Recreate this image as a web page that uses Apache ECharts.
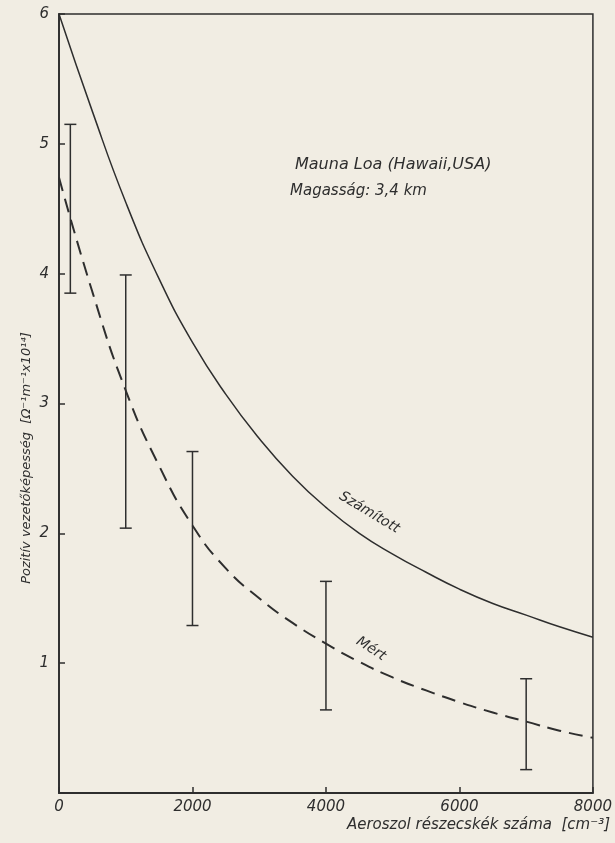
<!DOCTYPE html>
<html>
<head>
<meta charset="utf-8">
<script src="https://cdn.jsdelivr.net/npm/echarts@6/dist/echarts.min.js"></script>
<style>
html,body{margin:0;padding:0;background:#f1ede3;}
#c{width:615px;height:843px;}
</style>
</head>
<body>
<div id="c"></div>
<script>
// Data
var xTicks = [0, 2000, 4000, 6000, 8000];
var yTicks = [1, 2, 3, 4, 5, 6];
var calcX = [0, 500, 1000, 1500, 2000, 2500, 3000, 3500, 4000, 4500, 5000, 5500, 6000, 6500, 7000, 7500, 8000];
var calcY = [6.0, 5.25, 4.55, 3.96, 3.47, 3.07, 2.73, 2.44, 2.2, 2.0, 1.84, 1.70, 1.57, 1.46, 1.37, 1.28, 1.20];
var measX = [0, 500, 1000, 1500, 2000, 2500, 3000, 3500, 4000, 4500, 5000, 5500, 6000, 6500, 7000, 7500, 8000];
var measY = [4.74, 3.86, 3.1, 2.52, 2.06, 1.73, 1.50, 1.31, 1.15, 1.01, 0.89, 0.79, 0.70, 0.62, 0.55, 0.48, 0.425];
var errX = [170, 1000, 2000, 4000, 7000];
var errLow = [3.85, 2.04, 1.29, 0.64, 0.18];
var errHigh = [5.15, 3.99, 2.63, 1.63, 0.88];

var ink = '#2e2e2e';
var fontFam = '"DejaVu Sans", "Liberation Sans", sans-serif';

function zip(a, b) { return a.map(function (v, i) { return [v, b[i]]; }); }

var chart = echarts.init(document.getElementById('c'), null, {renderer: 'canvas'});
chart.setOption({
  backgroundColor: '#f1ede3',
  animation: false,
  grid: {left: 59, right: 22, top: 14, bottom: 50, show: true, borderColor: ink, borderWidth: 1.5, backgroundColor: 'transparent'},
  xAxis: {
    type: 'value', min: 0, max: 8000, interval: 2000,
    axisLine: {lineStyle: {color: ink, width: 1.8}},
    axisTick: {inside: true, length: 6, lineStyle: {color: ink, width: 1.5}},
    splitLine: {show: false},
    axisLabel: {color: ink, fontSize: 15, fontStyle: 'italic', fontFamily: fontFam, margin: 7,
      formatter: function (v) { return xTicks.indexOf(v) >= 0 ? String(v) : ''; }}
  },
  yAxis: {
    type: 'value', min: 0, max: 6, interval: 1,
    axisLine: {lineStyle: {color: ink, width: 1.8}},
    axisTick: {inside: true, length: 6, lineStyle: {color: ink, width: 1.5}},
    splitLine: {show: false},
    axisLabel: {color: ink, fontSize: 15, fontStyle: 'italic', fontFamily: fontFam, margin: 10,
      formatter: function (v) { return yTicks.indexOf(v) >= 0 ? String(v) : ''; }}
  },
  series: [
    {
      name: 'Számított', type: 'line', data: zip(calcX, calcY), smooth: 0.5, symbol: 'none',
      lineStyle: {color: ink, width: 1.5},
      markPoint: {
        symbol: 'circle', symbolSize: 1, silent: true,
        itemStyle: {color: 'rgba(0,0,0,0)'},
        data: [{coord: [4650, 2.16], value: 'Számított'}],
        label: {show: true, position: 'inside', formatter: 'Számított', color: ink, fontSize: 14, fontStyle: 'italic', fontFamily: fontFam, rotate: -31}
      }
    },
    {
      name: 'Mért', type: 'line', data: zip(measX, measY), smooth: 0.5, symbol: 'none',
      lineStyle: {color: ink, width: 2, type: [14, 8]},
      markPoint: {
        symbol: 'circle', symbolSize: 1, silent: true,
        itemStyle: {color: 'rgba(0,0,0,0)'},
        data: [{coord: [4674, 1.11], value: 'Mért'}],
        label: {show: true, position: 'inside', formatter: 'Mért', color: ink, fontSize: 14, fontStyle: 'italic', fontFamily: fontFam, rotate: -33}
      }
    },
    {
      name: 'hiba', type: 'custom',
      data: errX.map(function (x, i) { return [x, errLow[i], errHigh[i]]; }),
      renderItem: function (params, api) {
        var lo = api.coord([api.value(0), api.value(1)]);
        var hi = api.coord([api.value(0), api.value(2)]);
        var w = 6;
        var st = {stroke: ink, lineWidth: 1.5, fill: null};
        return {type: 'group', children: [
          {type: 'line', shape: {x1: lo[0], y1: lo[1], x2: hi[0], y2: hi[1]}, style: st},
          {type: 'line', shape: {x1: lo[0] - w, y1: lo[1], x2: lo[0] + w, y2: lo[1]}, style: st},
          {type: 'line', shape: {x1: hi[0] - w, y1: hi[1], x2: hi[0] + w, y2: hi[1]}, style: st}
        ]};
      },
      z: 3
    }
  ],
  graphic: [
    {type: 'text', left: 295, top: 157, style: {text: 'Mauna Loa (Hawaii,USA)', fill: ink, font: 'italic 16px "DejaVu Sans", sans-serif'}},
    {type: 'text', left: 290, top: 184, style: {text: 'Magasság: 3,4 km', fill: ink, font: 'italic 15px "DejaVu Sans", sans-serif'}},
    {type: 'text', x: 27, y: 458, rotation: Math.PI / 2,
      style: {text: 'Pozitív vezetőképesség  [Ω⁻¹m⁻¹x10¹⁴]', fill: ink, font: 'italic 13px "DejaVu Sans", sans-serif', align: 'center', verticalAlign: 'middle'}},
    {type: 'text', right: 5, top: 818, style: {text: 'Aeroszol részecskék száma  [cm⁻³]', fill: ink, font: 'italic 15px "DejaVu Sans", sans-serif'}}
  ]
});
</script>
</body>
</html>
